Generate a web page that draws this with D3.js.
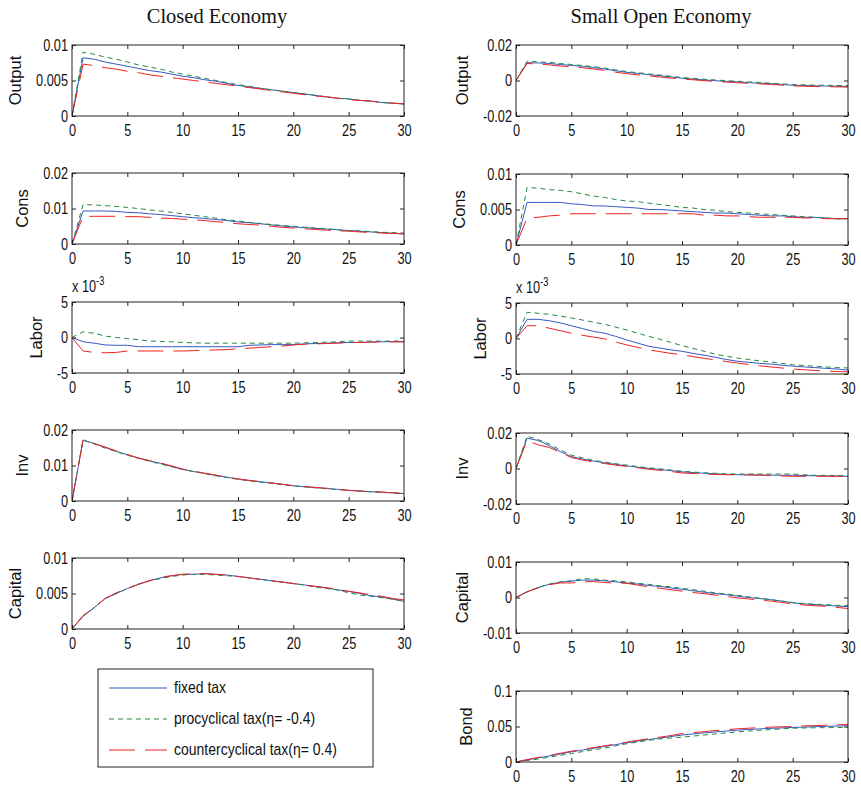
<!DOCTYPE html>
<html><head><meta charset="utf-8">
<script src="https://cdn.jsdelivr.net/npm/d3@7"></script>
<style>
body{margin:0;background:#fff}
text{font-family:"Liberation Sans",Arial,Helvetica,sans-serif;fill:#111}
</style></head>
<body><svg id="chart" width="861" height="786"></svg>
<script>
// ---------- data ----------
const periods = d3.range(0, 31);
const xTicks = [0, 5, 10, 15, 20, 25, 30];
const seriesNames = ["fixed tax", "procyclical tax(η= -0.4)", "countercyclical tax(η= 0.4)"];
const columnTitles = ["Closed Economy", "Small Open Economy"];

// Closed economy
const closedOutputFixed = [0,.0082,.0080,.0076,.0073,.0070,.0067,.0064,.0062,.0059,.0056,.0054,.0051,.0049,.0046,.0043,.0041,.0039,.0037,.0035,.0033,.0031,.0029,.0027,.0025,.0024,.0022,.0021,.0019,.0018,.0017];
const closedOutputPro   = [0,.0090,.0087,.0083,.0080,.0076,.0072,.0069,.0066,.0062,.0059,.0056,.0053,.0050,.0047,.0044,.0042,.0039,.0037,.0035,.0033,.0031,.0029,.0027,.0025,.0024,.0022,.0021,.0019,.0018,.0017];
const closedOutputCounter = [0,.0073,.0071,.0068,.0066,.0063,.0061,.0058,.0056,.0054,.0052,.0050,.0048,.0046,.0044,.0042,.0040,.0038,.0036,.0034,.0032,.0030,.0028,.0027,.0025,.0023,.0022,.0021,.0019,.0018,.0017];

const closedConsFixed = [0,.0093,.0093,.0093,.0092,.0089,.0088,.0085,.0083,.0080,.0077,.0074,.0072,.0069,.0066,.0062,.0060,.0057,.0054,.0051,.0048,.0046,.0044,.0042,.0040,.0038,.0036,.0034,.0032,.0030,.0028];
const closedConsPro   = [0,.0111,.0110,.0108,.0106,.0103,.0100,.0096,.0093,.0089,.0085,.0081,.0077,.0073,.0068,.0065,.0061,.0058,.0055,.0052,.0050,.0047,.0045,.0043,.0040,.0038,.0037,.0035,.0033,.0032,.0031];
const closedConsCounter = [0,.0078,.0078,.0078,.0078,.0077,.0077,.0075,.0073,.0072,.0070,.0068,.0066,.0063,.0060,.0057,.0055,.0053,.0050,.0047,.0045,.0043,.0041,.0039,.0037,.0036,.0034,.0032,.0031,.0030,.0029];

// labor in units of 10^-3
const closedLaborFixed = [0,-0.6,-0.8,-1.05,-1.1,-1.1,-1.3,-1.3,-1.3,-1.3,-1.3,-1.3,-1.3,-1.3,-1.3,-1.3,-1.1,-1.05,-1.0,-1.0,-1.0,-0.9,-0.85,-0.8,-0.75,-0.7,-0.7,-0.65,-0.6,-0.6,-0.6];
const closedLaborPro   = [0,0.8,0.6,0.2,0.0,-0.15,-0.3,-0.5,-0.55,-0.6,-0.7,-0.75,-0.8,-0.8,-0.8,-0.8,-0.8,-0.8,-0.8,-0.8,-0.8,-0.75,-0.7,-0.65,-0.6,-0.5,-0.5,-0.5,-0.5,-0.5,-0.5];
const closedLaborCounter = [0,-1.9,-2.1,-2.15,-2.1,-1.9,-1.9,-1.9,-1.9,-1.9,-1.9,-1.85,-1.8,-1.75,-1.7,-1.6,-1.5,-1.4,-1.3,-1.2,-1.05,-0.95,-0.9,-0.85,-0.8,-0.7,-0.7,-0.65,-0.6,-0.6,-0.6];

const closedInvFixed = [0,.0172,.0162,.0151,.0140,.0130,.0121,.0113,.0106,.0097,.0089,.0083,.0078,.0072,.0067,.0062,.0058,.0054,.0051,.0047,.0043,.0040,.0038,.0035,.0033,.0030,.0028,.0026,.0025,.0023,.0021];
const closedInvPro   = [0,.0171,.0161,.0149,.0139,.0129,.0120,.0112,.0104,.0097,.0089,.0083,.0077,.0071,.0066,.0061,.0057,.0053,.0050,.0046,.0043,.0040,.0037,.0035,.0032,.0030,.0028,.0026,.0024,.0023,.0021];
const closedInvCounter = [0,.0172,.0162,.0152,.0141,.0131,.0121,.0114,.0107,.0099,.0090,.0084,.0078,.0073,.0067,.0062,.0058,.0055,.0051,.0047,.0043,.0041,.0038,.0036,.0033,.0030,.0028,.0027,.0025,.0023,.0021];

const closedCapitalFixed = [0,.0018,.0030,.0043,.0050,.0057,.0063,.0068,.0072,.0075,.0077,.0077,.0078,.0077,.0076,.0074,.0072,.0070,.0068,.0066,.0064,.0062,.0060,.0058,.0055,.0053,.0050,.0047,.0045,.0042,.0039];
const closedCapitalPro   = [0,.0018,.0030,.0043,.0050,.0057,.0063,.0068,.0071,.0074,.0076,.0077,.0077,.0076,.0075,.0074,.0072,.0070,.0068,.0066,.0064,.0062,.0059,.0057,.0055,.0051,.0048,.0046,.0044,.0042,.0039];
const closedCapitalCounter = [0,.0019,.0030,.0043,.0051,.0057,.0063,.0068,.0073,.0075,.0077,.0078,.0078,.0077,.0076,.0074,.0072,.0070,.0068,.0066,.0064,.0062,.0060,.0058,.0056,.0053,.0051,.0048,.0046,.0043,.0041];

// Small open economy
const openOutputFixed = [0,.0100,.0099,.0096,.0090,.0085,.0080,.0073,.0065,.0055,.0046,.0040,.0033,.0027,.0020,.0013,.0008,.0003,-.0001,-.0005,-.0008,-.0012,-.0015,-.0018,-.0022,-.0027,-.0028,-.0030,-.0031,-.0032,-.0033];
const openOutputPro   = [0,.0108,.0105,.0102,.0096,.0090,.0085,.0078,.0070,.0060,.0050,.0044,.0037,.0031,.0024,.0017,.0012,.0007,.0003,-.0001,-.0004,-.0008,-.0011,-.0015,-.0019,-.0023,-.0024,-.0026,-.0027,-.0028,-.0029];
const openOutputCounter = [0,.0096,.0092,.0088,.0082,.0077,.0072,.0065,.0057,.0047,.0038,.0032,.0026,.0020,.0014,.0008,.0004,-.0001,-.0005,-.0009,-.0012,-.0016,-.0019,-.0022,-.0026,-.0030,-.0032,-.0034,-.0035,-.0036,-.0037];

const openConsFixed = [0,.0060,.0060,.0060,.0060,.0058,.0057,.0055,.0055,.0054,.0053,.0052,.0050,.0050,.0049,.0048,.0047,.0046,.0045,.0045,.0044,.0043,.0042,.0041,.0041,.0040,.0039,.0039,.0038,.0037,.0037];
const openConsPro   = [0,.0081,.0080,.0078,.0077,.0075,.0072,.0069,.0067,.0064,.0062,.0061,.0059,.0057,.0055,.0053,.0052,.0050,.0049,.0047,.0046,.0045,.0044,.0043,.0042,.0041,.0040,.0039,.0038,.0037,.0037];
const openConsCounter = [0,.0038,.0039,.0041,.0042,.0044,.0044,.0044,.0044,.0044,.0044,.0044,.0044,.0044,.0044,.0044,.0044,.0042,.0042,.0041,.0041,.0040,.0039,.0039,.0039,.0039,.0038,.0038,.0037,.0037,.0037];

const openLaborFixed = [0,2.7,2.7,2.5,2.2,1.8,1.4,1.0,0.75,0.3,-0.2,-0.65,-1.1,-1.35,-1.6,-1.8,-2.1,-2.35,-2.65,-2.95,-3.2,-3.35,-3.5,-3.6,-3.75,-3.9,-4.0,-4.1,-4.2,-4.3,-4.45];
const openLaborPro   = [0,3.7,3.55,3.4,3.15,2.9,2.6,2.3,2.0,1.6,1.2,0.75,0.3,-0.1,-0.55,-1.0,-1.4,-1.8,-2.2,-2.5,-2.75,-2.95,-3.15,-3.3,-3.5,-3.7,-3.8,-3.9,-4.0,-4.1,-4.15];
const openLaborCounter = [0,1.8,1.8,1.45,1.1,0.75,0.45,0.2,-0.05,-0.5,-0.9,-1.25,-1.6,-1.85,-2.1,-2.3,-2.55,-2.8,-3.0,-3.25,-3.45,-3.65,-3.85,-4.0,-4.15,-4.3,-4.4,-4.5,-4.6,-4.65,-4.7];

const openInvFixed = [0,.0171,.0158,.0129,.0095,.0067,.0053,.0042,.0032,.0023,.0015,.0007,0,-.0006,-.0012,-.0019,-.0023,-.0027,-.0030,-.0033,-.0035,-.0036,-.0037,-.0037,-.0038,-.0038,-.0040,-.0041,-.0042,-.0043,-.0044];
const openInvPro   = [0,.0182,.0163,.0138,.0105,.0075,.0060,.0046,.0036,.0027,.0019,.0011,.0004,-.0002,-.0009,-.0015,-.0020,-.0024,-.0027,-.0030,-.0031,-.0031,-.0031,-.0031,-.0031,-.0031,-.0035,-.0038,-.0039,-.0040,-.0040];
const openInvCounter = [0,.0158,.0133,.0119,.0090,.0062,.0048,.0037,.0028,.0019,.0012,.0004,-.0004,-.0010,-.0017,-.0025,-.0028,-.0031,-.0034,-.0035,-.0035,-.0036,-.0037,-.0040,-.0042,-.0044,-.0044,-.0044,-.0044,-.0044,-.0044];

const openCapitalFixed = [0,.0016,.0028,.0037,.0043,.0046,.0049,.0049,.0047,.0044,.0041,.0038,.0034,.0031,.0027,.0023,.0019,.0015,.0011,.0008,.0004,.0000,-.0003,-.0006,-.0010,-.0015,-.0018,-.0020,-.0022,-.0024,-.0026];
const openCapitalPro   = [0,.0016,.0028,.0038,.0044,.0047,.0053,.0052,.0049,.0047,.0044,.0040,.0037,.0033,.0030,.0026,.0022,.0018,.0013,.0010,.0006,.0002,-.0002,-.0006,-.0010,-.0014,-.0017,-.0019,-.0020,-.0022,-.0023];
const openCapitalCounter = [0,.0016,.0027,.0036,.0041,.0041,.0044,.0045,.0042,.0041,.0040,.0035,.0030,.0026,.0022,.0018,.0014,.0011,.0007,.0003,-.0001,-.0004,-.0007,-.0010,-.0014,-.0018,-.0021,-.0023,-.0025,-.0028,-.0031];

const openBondFixed = [0,.0030,.0058,.0085,.0113,.0143,.0168,.0193,.0218,.0245,.0270,.0295,.0317,.0338,.0358,.0380,.0395,.0410,.0423,.0436,.0448,.0458,.0466,.0474,.0480,.0486,.0492,.0497,.0502,.0506,.0510];
const openBondPro   = [0,.0020,.0042,.0068,.0094,.0119,.0146,.0172,.0196,.0228,.0257,.0282,.0305,.0325,.0338,.0350,.0365,.0380,.0395,.0410,.0424,.0436,.0447,.0456,.0466,.0476,.0479,.0482,.0484,.0485,.0486];
const openBondCounter = [0,.0035,.0063,.0093,.0122,.0152,.0177,.0203,.0228,.0253,.0280,.0305,.0328,.0350,.0372,.0400,.0414,.0428,.0442,.0455,.0467,.0476,.0484,.0491,.0496,.0500,.0508,.0513,.0518,.0523,.0530];

// y tick values per panel
const ticksClosedOutput = [0, 0.005, 0.01];
const ticksClosedCons = [0, 0.01, 0.02];
const ticksLabor = [-5, 0, 5];
const ticksClosedInv = [0, 0.01, 0.02];
const ticksClosedCapital = [0, 0.005, 0.01];
const ticksOpenOutput = [-0.02, 0, 0.02];
const ticksOpenCons = [0, 0.005, 0.01];
const ticksOpenInv = [-0.02, 0, 0.02];
const ticksOpenCapital = [-0.01, 0, 0.01];
const ticksOpenBond = [0, 0.05, 0.1];

// ---------- layout ----------
const colLeft = [72, 516];
const rowTop = [[45, 173, 302, 430, 558], [45, 174, 303, 433, 562, 691]];
const PW = 332, PH = 71;
const SX = 0.88, SY = 1.15;

const panels = [
  {c:0,r:0,label:"Output",ticks:ticksClosedOutput,data:[closedOutputFixed,closedOutputPro,closedOutputCounter]},
  {c:0,r:1,label:"Cons",ticks:ticksClosedCons,data:[closedConsFixed,closedConsPro,closedConsCounter]},
  {c:0,r:2,label:"Labor",ticks:ticksLabor,exp:true,data:[closedLaborFixed,closedLaborPro,closedLaborCounter]},
  {c:0,r:3,label:"Inv",ticks:ticksClosedInv,data:[closedInvFixed,closedInvPro,closedInvCounter]},
  {c:0,r:4,label:"Capital",ticks:ticksClosedCapital,data:[closedCapitalFixed,closedCapitalPro,closedCapitalCounter]},
  {c:1,r:0,label:"Output",ticks:ticksOpenOutput,data:[openOutputFixed,openOutputPro,openOutputCounter]},
  {c:1,r:1,label:"Cons",ticks:ticksOpenCons,data:[openConsFixed,openConsPro,openConsCounter]},
  {c:1,r:2,label:"Labor",ticks:ticksLabor,exp:true,data:[openLaborFixed,openLaborPro,openLaborCounter]},
  {c:1,r:3,label:"Inv",ticks:ticksOpenInv,data:[openInvFixed,openInvPro,openInvCounter]},
  {c:1,r:4,label:"Capital",ticks:ticksOpenCapital,data:[openCapitalFixed,openCapitalPro,openCapitalCounter]},
  {c:1,r:5,label:"Bond",ticks:ticksOpenBond,data:[openBondFixed,openBondPro,openBondCounter]}
];

const styles = [
  {stroke:"#3857c4", dash:null, w:1},
  {stroke:"#1f8b3e", dash:"5,4", w:1},
  {stroke:"#ee2222", dash:"26,10", w:1}
];

const svg = d3.select("#chart");
const fmt = d => String(+d.toPrecision(6));

// titles
columnTitles.forEach((t, i) => {
  svg.append("text")
    .attr("transform", `translate(${colLeft[i] + PW/2 - 21},23) scale(1,1.06)`)
    .attr("text-anchor", "middle")
    .style("font-family", "'Liberation Serif','Times New Roman',serif")
    .style("font-size", "20.5px")
    .text(t);
});

panels.forEach((p, pi) => {
  const x0 = colLeft[p.c], y0 = rowTop[p.c][p.r];
  const g = svg.append("g").attr("transform", `translate(${x0},${y0})`);
  const x = d3.scaleLinear().domain([0, 30]).range([0, PW]);
  const y = d3.scaleLinear().domain([p.ticks[0], p.ticks[2]]).range([PH, 0]);

  g.append("clipPath").attr("id", "clip" + pi)
    .append("rect").attr("x", 0).attr("y", -1).attr("width", PW).attr("height", PH + 2);

  const line = d3.line().x((d, i) => x(periods[i])).y(d => y(d));
  const lg = g.append("g").attr("clip-path", `url(#clip${pi})`);
  p.data.forEach((arr, si) => {
    const st = styles[si];
    lg.append("path").datum(arr)
      .attr("fill", "none")
      .attr("stroke", st.stroke)
      .attr("stroke-width", st.w)
      .attr("stroke-dasharray", st.dash)
      .attr("d", line);
  });

  // axes (inward ticks on all four sides)
  const xb = g.append("g").attr("transform", `translate(0,${PH})`)
    .call(d3.axisBottom(x).tickValues(xTicks).tickSize(-4).tickPadding(7).tickFormat(fmt));
  g.append("g").call(d3.axisTop(x).tickValues(xTicks).tickSize(-4).tickFormat(""));
  const yl = g.append("g")
    .call(d3.axisLeft(y).tickValues(p.ticks).tickSize(-4).tickPadding(4).tickFormat(fmt));
  g.append("g").attr("transform", `translate(${PW},0)`)
    .call(d3.axisRight(y).tickValues(p.ticks).tickSize(-4).tickFormat(""));
  g.selectAll(".domain").remove();
  g.selectAll(".tick line").attr("stroke", "#222");
  [xb, yl].forEach(a => a.selectAll("text")
    .style("font-size", "14.5px").style("font-family", "'Liberation Sans',Arial,sans-serif")
    .attr("fill", "#111")
    .attr("transform", `scale(${SX},${SY})`));
  yl.selectAll("text").attr("x", -4 / SX);

  g.append("rect").attr("width", PW).attr("height", PH)
    .attr("fill", "none").attr("stroke", "#222").attr("stroke-width", 1);

  // y label placed left of tick labels
  let minX = 0;
  yl.selectAll("text").each(function() {
    const b = this.getBBox();
    minX = Math.min(minX, b.x * SX);
  });
  g.append("text")
    .attr("transform", `translate(${minX - 15},${PH/2}) rotate(-90)`)
    .attr("text-anchor", "middle")
    .style("font-size", "16.5px")
    .text(p.label);

  if (p.exp) {
    const t = g.append("text").attr("transform", `translate(0,-10) scale(${SX},${SY})`)
      .style("font-size", "14.5px");
    t.append("tspan").text("x 10");
    t.append("tspan").attr("dy", -6).style("font-size", "10.5px").text("-3");
  }
});

// legend
const leg = svg.append("g");
leg.append("rect").attr("x", 98).attr("y", 669).attr("width", 275).attr("height", 98)
  .attr("fill", "#fff").attr("stroke", "#222").attr("stroke-width", 1);
const legY = [688, 719, 750];
seriesNames.forEach((name, i) => {
  const st = styles[i];
  leg.append("line").attr("x1", 109).attr("x2", 167).attr("y1", legY[i]).attr("y2", legY[i])
    .attr("stroke", st.stroke).attr("stroke-width", st.w).attr("stroke-dasharray", st.dash);
  leg.append("text").attr("transform", `translate(174,${legY[i] + 5}) scale(1,${SY})`)
    .style("font-size", "14px").text(name);
});
</script>
</body></html>
